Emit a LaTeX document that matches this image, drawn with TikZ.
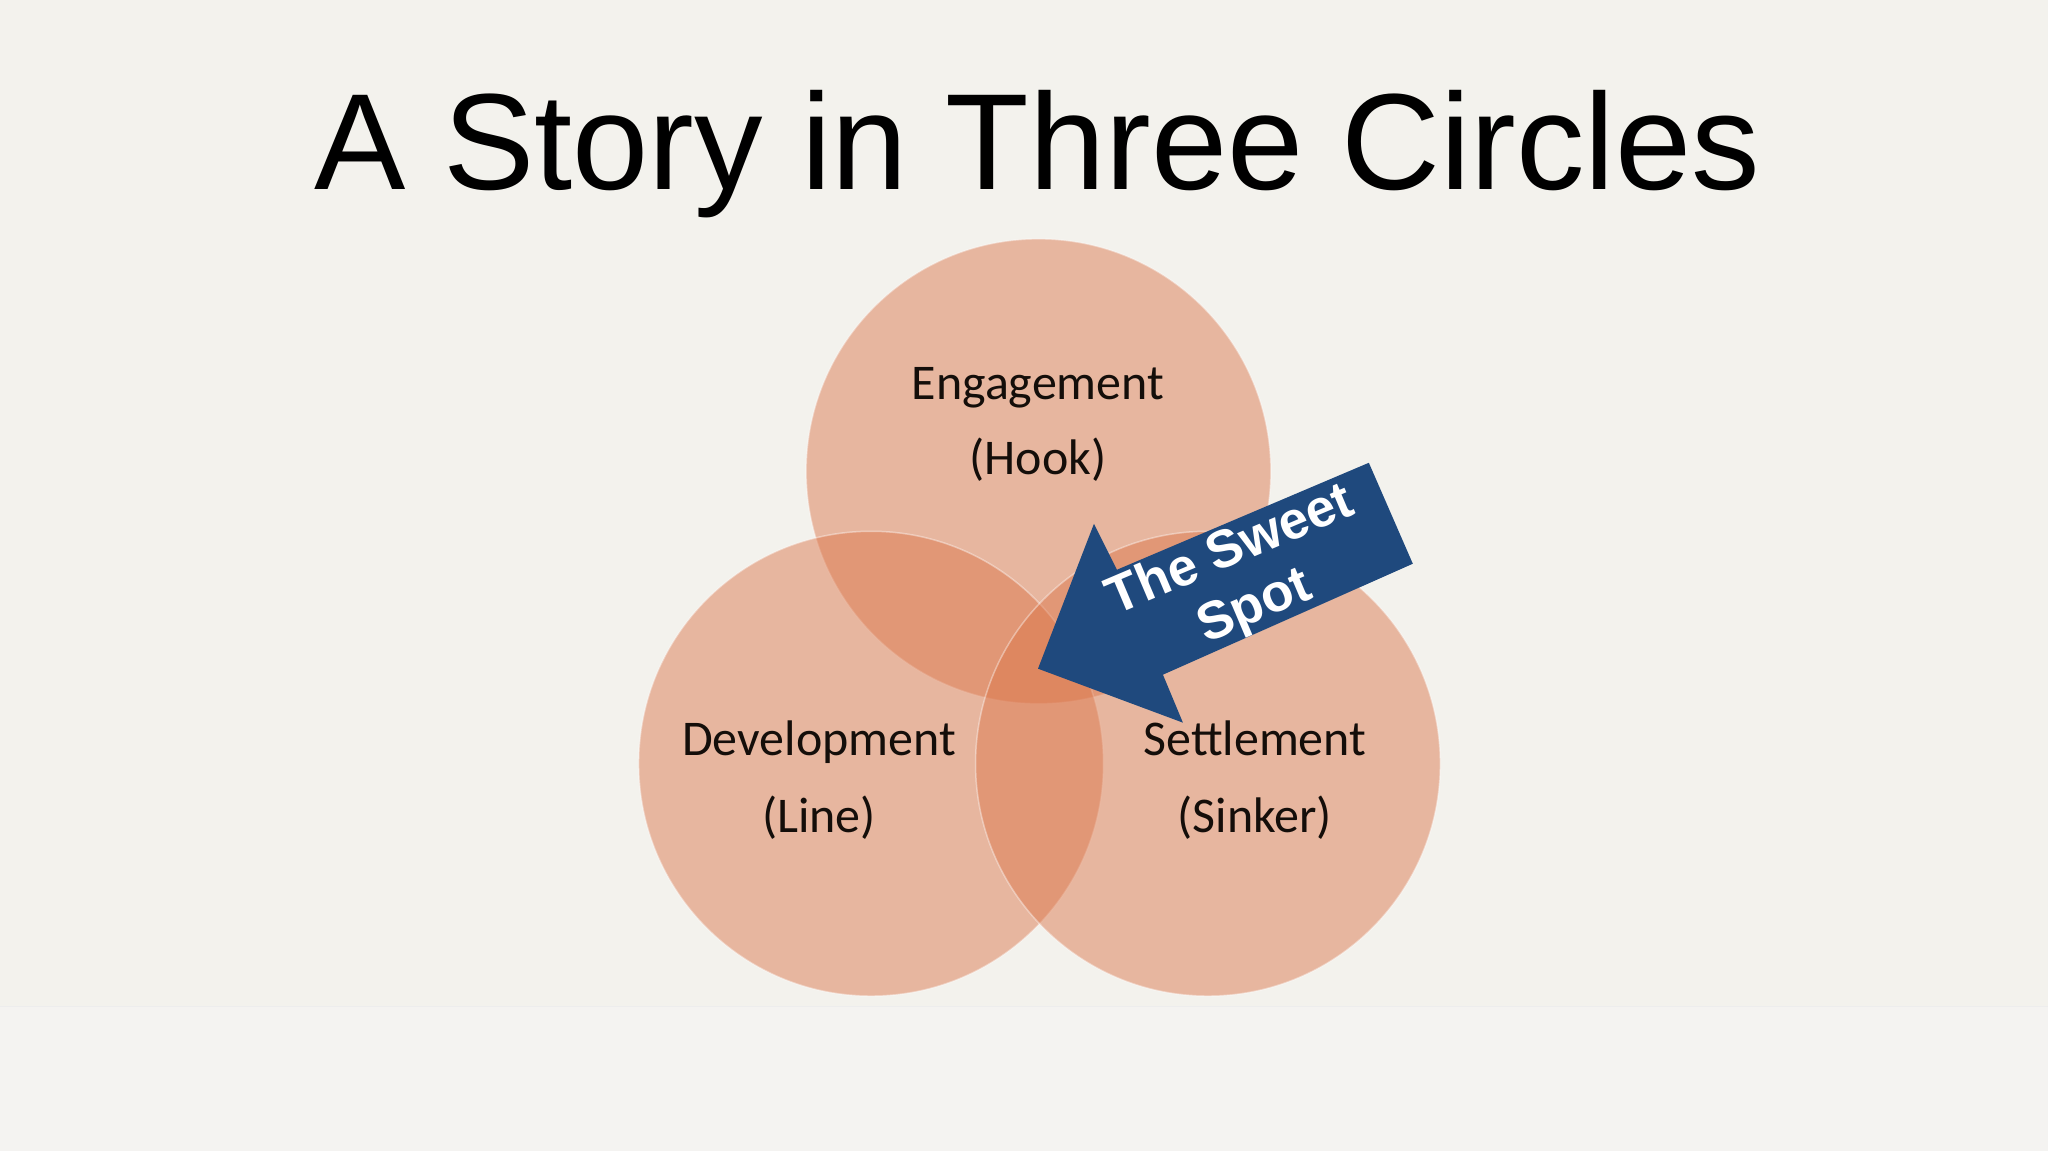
\documentclass[tikz,border=0pt]{standalone}
\usepackage{fontspec}
\setmainfont{Liberation Sans}
\newfontfamily\calibri{Carlito}
\definecolor{bgtop}{RGB}{243,242,237}
\definecolor{bgbot}{RGB}{244,243,241}
\definecolor{circfill}{RGB}{219,118,74}
\definecolor{arrowblue}{RGB}{31,73,125}
\definecolor{labeltext}{RGB}{20,14,10}
\begin{document}
\begin{tikzpicture}[x=1pt,y=-1pt,
  venn/.style={circle, minimum size=465pt, inner sep=0pt, fill=circfill, fill opacity=0.48, draw=white, draw opacity=0.4, line width=1.5pt},
  lbl/.style={font=\calibri\fontsize{50}{60}\selectfont, text=labeltext, anchor=base, inner sep=0pt},
  titletext/.style={font=\fontsize{137}{160}\selectfont, text=black, anchor=base, inner sep=0pt},
  arrowtext/.style={font=\bfseries\fontsize{53}{61}\selectfont, text=white, align=center, inner sep=0pt},
]
\fill[bgtop] (0,0) rectangle (2048,1007);
\fill[bgbot] (0,1007) rectangle (2048,1152);
\draw[line width=1pt, color=black!7] (0,1007) -- (2048,1007);
\useasboundingbox (0,0) rectangle (2048,1152);

\node[titletext] (title) at (1037,190) {A Story in Three Circles};

\node[venn] (eng) at (1038.5,471.5) {};
\node[venn] (dev) at (871,764) {};
\node[venn] (set) at (1208,764) {};

\node[lbl] (engA) at (1038,400) {Engagement};
\node[lbl] (engB) at (1038,475) {(Hook)};
\node[lbl] (devA) at (819,756) {Development};
\node[lbl] (devB) at (819,833) {(Line)};
\node[lbl] (setA) at (1255,756) {Settlement};
\node[lbl] (setB) at (1255,833) {(Sinker)};

\fill[arrowblue] (1038,669) -- (1094,524) -- (1117,570) -- (1369,463) -- (1413,564) -- (1163,675) -- (1183,723) -- cycle;
\node[arrowtext, rotate=23] (sweet) at (1243,580) {The Sweet\\Spot};
\end{tikzpicture}
\end{document}
